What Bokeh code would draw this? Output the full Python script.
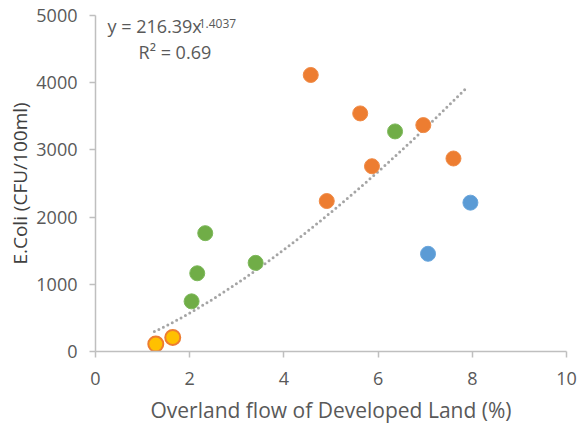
import numpy as np
from bokeh.plotting import figure
from bokeh.models import Range1d, FixedTicker, Label
from bokeh.embed import file_html
from bokeh.resources import INLINE

# Data
gold_x = [1.28, 1.64]
gold_y = [110, 209]
green_x = [2.04, 2.16, 2.33, 3.40, 6.36]
green_y = [746, 1164, 1761, 1319, 3275]
orange_x = [4.57, 5.62, 6.96, 5.87, 7.60, 4.91]
orange_y = [4115, 3543, 3369, 2757, 2872, 2239]
blue_x = [7.96, 7.06]
blue_y = [2215, 1454]

# Power trendline shown on the chart: y = a * x^b
trend_a = 216.39
trend_b = 1.4037
trend_x_start = 1.25
trend_x_end = 7.85

x_ticks = [0, 2, 4, 6, 8, 10]
y_ticks = [0, 1000, 2000, 3000, 4000, 5000]

FONT = "Open Sans"
TXT = "#595959"
AXC = "#bfbfbf"

p = figure(width=577, height=427, output_backend="svg", toolbar_location=None,
           x_range=Range1d(0, 10), y_range=Range1d(0, 5000),
           min_border_left=95, min_border_right=11, min_border_top=15, min_border_bottom=76)
p.outline_line_color = None
p.grid.visible = False
p.background_fill_color = "white"
p.border_fill_color = "white"

for ax in (p.xaxis[0], p.yaxis[0]):
    ax.axis_line_color = AXC
    ax.axis_line_width = 1.5
    ax.major_tick_line_color = AXC
    ax.major_tick_line_width = 1.5
    ax.major_tick_in = 0
    ax.major_tick_out = 6
    ax.minor_tick_line_color = None
    ax.major_label_text_font = FONT
    ax.major_label_text_font_size = "18px"
    ax.major_label_text_color = TXT
    ax.axis_label_text_font = FONT
    ax.axis_label_text_font_style = "normal"

p.xaxis.ticker = FixedTicker(ticks=x_ticks)
p.yaxis.ticker = FixedTicker(ticks=y_ticks)
p.xaxis.major_label_standoff = 14
p.yaxis.major_label_standoff = 12

p.xaxis.axis_label = "Overland flow of Developed Land (%)"
p.xaxis.axis_label_text_font_size = "21px"
p.xaxis.axis_label_text_color = TXT
p.xaxis.axis_label_standoff = 8

p.yaxis.axis_label = "E.Coli (CFU/100ml)"
p.yaxis.axis_label_text_font_size = "19px"
p.yaxis.axis_label_text_color = "#404040"
p.yaxis.axis_label_standoff = 0

tx = np.linspace(trend_x_start, trend_x_end, 60)
ty = trend_a * tx ** trend_b
p.line(tx, ty, line_color="#a5a5a5", line_width=3, line_dash="0 5", line_cap="round")

size = 15
p.scatter(green_x, green_y, size=size, fill_color="#70ad47", line_color="#7cb85a", line_width=1)
p.scatter(orange_x, orange_y, size=size, fill_color="#ed7d31", line_color="#f08a45", line_width=1)
p.scatter(blue_x, blue_y, size=size, fill_color="#5b9bd5", line_color="#6aa6dc", line_width=1)
p.scatter(gold_x, gold_y, size=size, fill_color="#ffc000", line_color="#ed7d31", line_width=2)

p.add_layout(Label(x=0.255, y=4851, text="y = 216.39x", text_font=FONT, text_font_size="18px",
                   text_color=TXT, text_baseline="middle", text_align="left"))
p.add_layout(Label(x=2.19, y=4881, text="1.4037", text_font=FONT, text_font_size="12px",
                   text_color=TXT, text_baseline="alphabetic", text_align="left"))
p.add_layout(Label(x=0.915, y=4464, text="R\u00b2 = 0.69", text_font=FONT, text_font_size="18px",
                   text_color=TXT, text_baseline="middle", text_align="left"))

open("out.html", "w").write(file_html(p, INLINE))
